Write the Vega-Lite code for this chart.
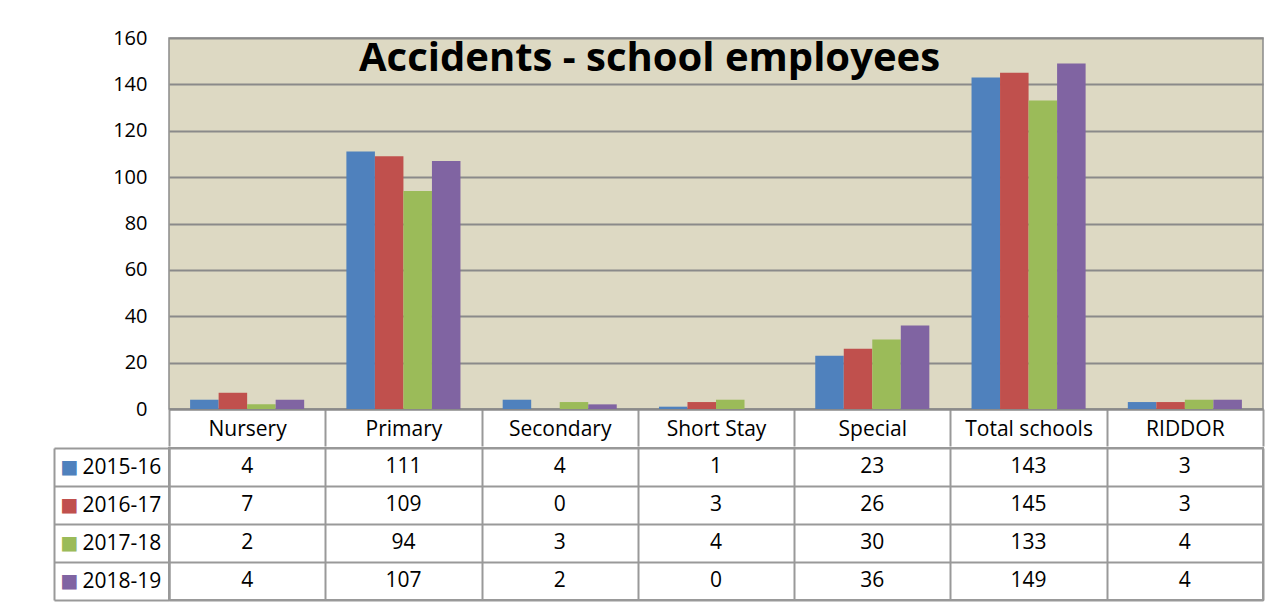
{
  "$schema": "https://vega.github.io/schema/vega-lite/v6.json",
  "background": "white",
  "padding": {"left": 52, "top": 27, "right": 5, "bottom": 0},
  "autosize": {"type": "pad"},
  "data": {
    "values": [
      {"category": "Nursery", "series": "2015-16", "value": 4},
      {"category": "Primary", "series": "2015-16", "value": 111},
      {"category": "Secondary", "series": "2015-16", "value": 4},
      {"category": "Short Stay", "series": "2015-16", "value": 1},
      {"category": "Special", "series": "2015-16", "value": 23},
      {"category": "Total schools", "series": "2015-16", "value": 143},
      {"category": "RIDDOR", "series": "2015-16", "value": 3},
      {"category": "Nursery", "series": "2016-17", "value": 7},
      {"category": "Primary", "series": "2016-17", "value": 109},
      {"category": "Secondary", "series": "2016-17", "value": 0},
      {"category": "Short Stay", "series": "2016-17", "value": 3},
      {"category": "Special", "series": "2016-17", "value": 26},
      {"category": "Total schools", "series": "2016-17", "value": 145},
      {"category": "RIDDOR", "series": "2016-17", "value": 3},
      {"category": "Nursery", "series": "2017-18", "value": 2},
      {"category": "Primary", "series": "2017-18", "value": 94},
      {"category": "Secondary", "series": "2017-18", "value": 3},
      {"category": "Short Stay", "series": "2017-18", "value": 4},
      {"category": "Special", "series": "2017-18", "value": 30},
      {"category": "Total schools", "series": "2017-18", "value": 133},
      {"category": "RIDDOR", "series": "2017-18", "value": 4},
      {"category": "Nursery", "series": "2018-19", "value": 4},
      {"category": "Primary", "series": "2018-19", "value": 107},
      {"category": "Secondary", "series": "2018-19", "value": 2},
      {"category": "Short Stay", "series": "2018-19", "value": 0},
      {"category": "Special", "series": "2018-19", "value": 36},
      {"category": "Total schools", "series": "2018-19", "value": 149},
      {"category": "RIDDOR", "series": "2018-19", "value": 4}
    ]
  },
  "spacing": -13,
  "vconcat": [
    {
      "width": 1094,
      "height": 371,
      "view": {"fill": "#DDD9C3", "stroke": "#8a8a8a", "strokeWidth": 1.5},
      "title": {
        "text": "Accidents - school employees",
        "anchor": "start",
        "frame": "group",
        "dx": 190,
        "offset": -51,
        "font": "Open Sans",
        "fontSize": 40,
        "fontWeight": "bold",
        "color": "black"
      },
      "mark": {"type": "bar"},
      "encoding": {
        "x": {
          "field": "category",
          "type": "nominal",
          "sort": null,
          "scale": {"paddingInner": 0, "paddingOuter": 0},
          "axis": {
            "title": null,
            "orient": "bottom",
            "labelAngle": 0,
            "labelFont": "Open Sans",
            "labelFontSize": 21,
            "labelColor": "black",
            "labelPadding": -28,
            "domainColor": "#8a8a8a",
            "domainWidth": 2,
            "ticks": true,
            "tickBand": "extent",
            "tickSize": 37,
            "tickColor": "#999999",
            "tickWidth": 2
          }
        },
        "xOffset": {
          "field": "series",
          "type": "nominal",
          "sort": null,
          "scale": {"paddingInner": 0, "paddingOuter": 0.74}
        },
        "y": {
          "field": "value",
          "type": "quantitative",
          "scale": {"domain": [0, 160], "nice": false},
          "axis": {
            "title": null,
            "values": [0, 20, 40, 60, 80, 100, 120, 140, 160],
            "grid": true,
            "gridColor": "#8a8a8a",
            "gridWidth": 2,
            "ticks": false,
            "domain": false,
            "labelFont": "Open Sans",
            "labelFontSize": 20,
            "labelColor": "black",
            "labelPadding": 22
          }
        },
        "color": {
          "field": "series",
          "type": "nominal",
          "sort": null,
          "scale": {"range": ["#4F81BD", "#C0504D", "#9BBB59", "#8064A2"]},
          "legend": null
        }
      }
    },
    {
      "width": 1094,
      "height": 152,
      "view": {"fill": "white", "stroke": "#999999", "strokeWidth": 2},
      "encoding": {
        "x": {
          "field": "category",
          "type": "nominal",
          "sort": null,
          "scale": {"paddingInner": 0, "paddingOuter": 0},
          "axis": {
            "title": null,
            "orient": "bottom",
            "labels": false,
            "ticks": false,
            "domain": false,
            "grid": true,
            "tickBand": "extent",
            "gridColor": "#999999",
            "gridWidth": 2
          }
        }
      },
      "layer": [
        {
          "mark": {"type": "text", "font": "Open Sans", "fontSize": 21, "color": "black"},
          "encoding": {
            "y": {
              "field": "series",
              "type": "nominal",
              "sort": null,
              "scale": {"paddingInner": 0, "paddingOuter": 0},
              "axis": {
                "title": null,
                "orient": "left",
                "grid": true,
                "tickBand": "extent",
                "gridColor": "#999999",
                "gridWidth": 2,
                "ticks": true,
                "tickSize": 115,
                "tickColor": "#999999",
                "tickWidth": 2,
                "domain": true,
                "domainColor": "#999999",
                "domainWidth": 2,
                "labelFont": "Open Sans",
                "labelFontSize": 21,
                "labelColor": "black",
                "labelAlign": "left",
                "labelPadding": -28
              }
            },
            "text": {"field": "value", "type": "quantitative"}
          }
        },
        {
          "mark": {"type": "text", "text": ""},
          "encoding": {
            "y": {
              "field": "series",
              "type": "nominal",
              "sort": null,
              "axis": {
                "title": null,
                "orient": "left",
                "offset": 115,
                "grid": false,
                "ticks": false,
                "domain": true,
                "domainColor": "#999999",
                "domainWidth": 2,
                "labelExpr": "'■'",
                "labelFont": "DejaVu Sans",
                "labelFontSize": 19,
                "labelAlign": "left",
                "labelPadding": -6,
                "labelColor": {
                  "condition": [
                    {"test": "datum.value === '2015-16'", "value": "#4F81BD"},
                    {"test": "datum.value === '2016-17'", "value": "#C0504D"},
                    {"test": "datum.value === '2017-18'", "value": "#9BBB59"}
                  ],
                  "value": "#8064A2"
                }
              }
            }
          }
        }
      ],
      "resolve": {"axis": {"y": "independent"}}
    }
  ]
}
